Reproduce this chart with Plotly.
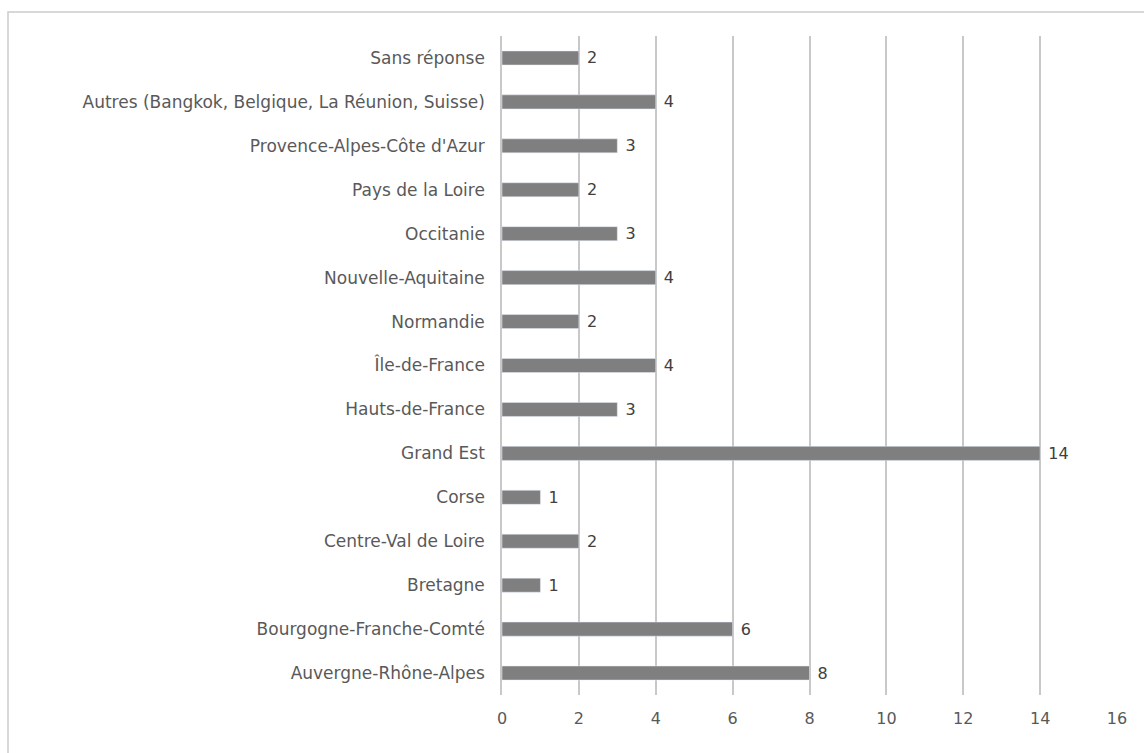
import plotly.graph_objects as go

# Regions listed bottom-to-top as they appear on the category axis
regions = [
    "Auvergne-Rhône-Alpes",
    "Bourgogne-Franche-Comté",
    "Bretagne",
    "Centre-Val de Loire",
    "Corse",
    "Grand Est",
    "Hauts-de-France",
    "Île-de-France",
    "Normandie",
    "Nouvelle-Aquitaine",
    "Occitanie",
    "Pays de la Loire",
    "Provence-Alpes-Côte d'Azur",
    "Autres (Bangkok, Belgique, La Réunion, Suisse)",
    "Sans réponse",
]
counts = [8, 6, 1, 2, 1, 14, 3, 4, 2, 4, 3, 2, 3, 4, 2]
x_ticks = [0, 2, 4, 6, 8, 10, 12, 14, 16]

W, H = 1144, 753
ml, mr, mt, mb = 502, 27, 36, 58
pw, ph = W - ml - mr, H - mt - mb

FONT = "DejaVu Sans, Verdana, sans-serif"

fig = go.Figure(
    go.Bar(
        x=counts,
        y=regions,
        orientation="h",
        marker=dict(color="#7f7f7f"),
        width=0.32,
        text=[f" {v}" for v in counts],
        textposition="outside",
        constraintext="none",
        cliponaxis=False,
        textfont=dict(family=FONT, size=16, color="#404040"),
    )
)

fig.update_layout(
    width=W,
    height=H,
    margin=dict(l=ml, r=mr, t=mt, b=mb),
    paper_bgcolor="white",
    plot_bgcolor="white",
    showlegend=False,
    font=dict(family=FONT, size=17, color="#595959"),
    xaxis=dict(
        range=[0, 16],
        tickvals=x_ticks,
        showgrid=True,
        gridcolor="#c8c8c8",
        gridwidth=1.5,
        zeroline=False,
        showline=False,
        ticks="",
        tickfont=dict(family=FONT, size=16, color="#595959"),
        ticklabelstandoff=12,
    ),
    yaxis=dict(
        categoryorder="array",
        categoryarray=regions,
        showgrid=False,
        zeroline=False,
        showline=True,
        linecolor="#c8c8c8",
        linewidth=1.5,
        ticks="",
        ticklabelstandoff=12,
        tickfont=dict(family=FONT, size=17, color="#595959"),
    ),
    shapes=[
        dict(
            type="rect",
            xref="paper",
            yref="paper",
            x0=(8 - ml) / pw,
            x1=(W + 20 - ml) / pw,
            y0=-(H + 20 - mt - ph) / ph,
            y1=(H - mb - 12) / ph,
            line=dict(color="#cccccc", width=1.5),
            fillcolor="rgba(0,0,0,0)",
            layer="below",
        )
    ],
)

fig.write_html("out.html")
